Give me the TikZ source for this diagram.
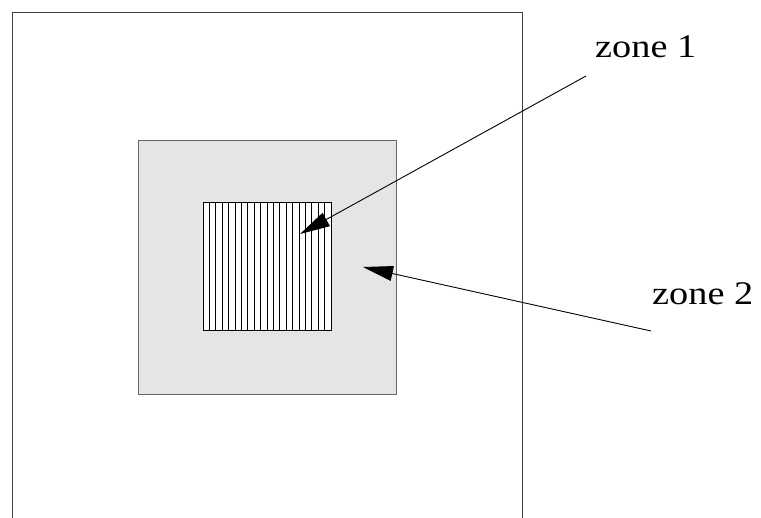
\documentclass[tikz,border=0pt]{standalone}
\usepackage{fontspec}
\setmainfont{Liberation Serif}
\usetikzlibrary{arrows.meta, positioning}
\definecolor{zonegray}{RGB}{229,229,229}

\begin{document}
\begin{tikzpicture}[
    x=1pt, y=-1pt,
    >={Triangle[length=30pt, width=15pt]},
    zonetext/.style={font=\fontsize{33}{40}\selectfont, inner sep=0pt,
                     anchor=base west, xscale=1.16},
    pointer/.style={->, line width=0.9pt}
  ]
  \useasboundingbox (0,0) rectangle (761,518);

  % outer frame, open at the bottom
  \draw[line width=0.8pt, black!75] (12,518) -- (12,12) -- (522,12) -- (522,518);

  % zone 2
  \draw[fill=zonegray, draw=black!60, line width=0.8pt]
    (138,140) rectangle (396,394);

  % zone 1, hatched
  \draw[fill=white, line width=1pt] (203,203) rectangle (331,331);
  \foreach \i in {1,...,19}
    \draw[line width=1pt] ({203+\i*6.4},203) -- ({203+\i*6.4},331);

  \node[zonetext] (z1) at (595,58) {zone 1};
  \node[zonetext] (z2) at (652,305) {zone 2};

  \coordinate (z1from) at (586,76);
  \coordinate (z1tip) at (300,234);
  \coordinate (z2from) at (651,331);
  \coordinate (z2tip) at (363,267);

  \draw[pointer] (z1from) -- (z1tip);
  \draw[pointer] (z2from) -- (z2tip);
\end{tikzpicture}
\end{document}
